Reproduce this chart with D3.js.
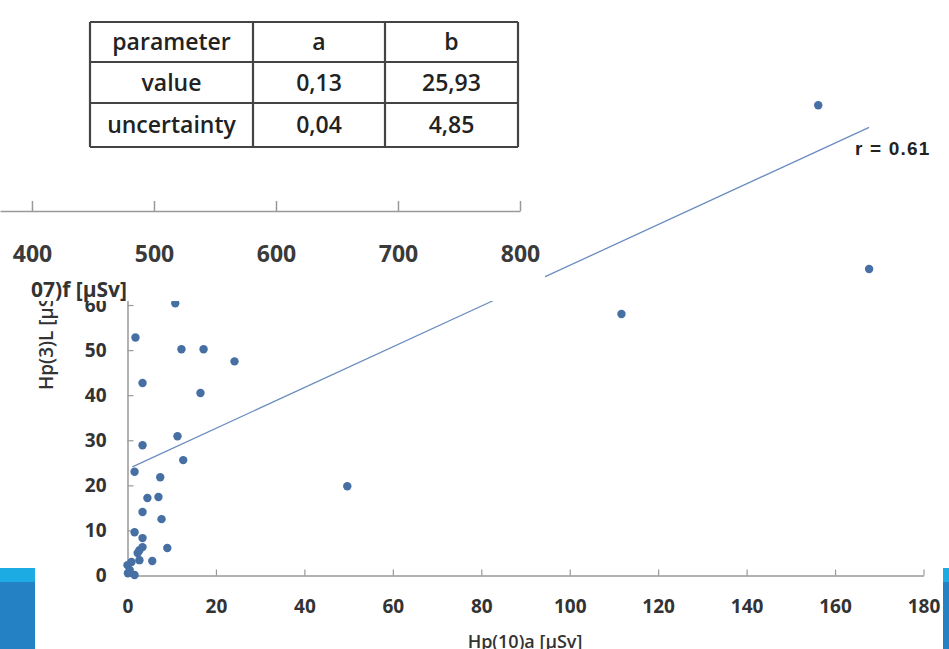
<!DOCTYPE html>
<html>
<head>
<meta charset="utf-8">
<script src="https://cdn.jsdelivr.net/npm/d3@7"></script>
<style>
  html, body { margin: 0; padding: 0; background: #fff; }
  svg { display: block; }
  text { font-family: "Open Sans", Lato, sans-serif; }
</style>
</head>
<body>
<svg id="graphic" width="949" height="649"></svg>
<script>
// main scatter: Hp(10)a vs Hp(3)L
const hp10 = [10.8, 1.8, 12.2, 17.2, 24.2, 3.4, 16.5, 11.3, 3.4, 12.6, 1.6, 7.4, 4.5, 7.0,
  3.4, 7.7, 1.6, 3.4, 3.4, 2.7, 2.3, 9.0, 2.7, 5.6, 0.9, 0.0, 0.5, 1.6, 0.1,
  49.7, 111.7, 156.2, 167.7];
const hp3 = [60.4, 52.8, 50.2, 50.2, 47.5, 42.7, 40.5, 30.9, 28.9, 25.6, 23.0, 21.8, 17.2, 17.4,
  14.1, 12.5, 9.6, 8.3, 6.3, 5.6, 5.0, 6.1, 3.4, 3.2, 3.0, 2.3, 1.2, 0.1, 0.5,
  19.8, 58.0, 104.3, 68.0];
const fitX = [1.1, 167.7];
const fitY = [24.1, 99.4];
const rLabel = "r = 0.61";

const xTicks = [0, 20, 40, 60, 80, 100, 120, 140, 160, 180];
const yTicks = [0, 10, 20, 30, 40, 50, 60, 70, 80, 90, 100, 110, 120];

// the chart behind it
const bgTicks = [400, 500, 600, 700, 800];
const bgTitle = "07)f [µSv]";

// parameter table
const tableHead = ["parameter", "a", "b"];
const tableValue = ["value", "0,13", "25,93"];
const tableUnc = ["uncertainty", "0,04", "4,85"];

let svg = d3.select('#graphic');

let xScale = d3.scaleLinear().domain([0, 180]).range([127.5, 923.5]);
let yScale = d3.scaleLinear().domain([0, 120]).range([575.5, 575.5 - 120 * 4.508]);

let xAxis = d3.axisBottom(xScale)
    .tickValues(xTicks)
    .tickSizeInner(-6)
    .tickSizeOuter(0)
    .tickPadding(24);

let yAxis = d3.axisLeft(yScale)
    .tickValues(yTicks)
    .tickSizeInner(-6)
    .tickSizeOuter(0)
    .tickPadding(21);

let main = svg.append('g');

let gx = main.append('g')
    .attr('transform', 'translate(0,575.5)')
    .call(xAxis);

let gy = main.append('g')
    .attr('transform', 'translate(127.5,0)')
    .call(yAxis);

[gx, gy].forEach(g => {
    g.select('.domain').attr('stroke', '#999').attr('stroke-width', 1.5);
    g.selectAll('.tick line').attr('stroke', '#999').attr('stroke-width', 1.2);
    g.selectAll('.tick text')
        .attr('fill', '#333')
        .style('font-size', '19px')
        .style('font-weight', 700);
});

main.append('path')
    .datum(fitX.map((x, i) => [x, fitY[i]]))
    .attr('fill', 'none')
    .attr('stroke', '#6a8cbf')
    .attr('stroke-width', 1.3)
    .attr('d', d3.line().x(d => xScale(d[0])).y(d => yScale(d[1])));

main.selectAll('.data_point')
    .data(hp10.map((x, i) => ({x: x, y: hp3[i]})))
    .enter()
    .append('circle')
    .classed('data_point', true)
    .attr('cx', d => xScale(d.x))
    .attr('cy', d => yScale(d.y))
    .attr('r', 4.2)
    .attr('fill', '#4670a4');

main.append('text')
    .attr('x', 855)
    .attr('y', 155)
    .attr('fill', '#222')
    .style('font-family', '"Liberation Sans", Arial, sans-serif')
    .style('font-size', '19px')
    .style('font-weight', 700)
    .style('letter-spacing', '1.2px')
    .text(rLabel);

main.append('text')
    .attr('transform', 'translate(53,390) rotate(-90)')
    .attr('fill', '#333')
    .style('font-size', '19px')
    .style('font-weight', 600)
    .text('Hp(3)L [µSv]');

main.append('text')
    .attr('x', 525)
    .attr('y', 648)
    .attr('text-anchor', 'middle')
    .attr('fill', '#333')
    .style('font-size', '18px')
    .style('font-weight', 600)
    .text('Hp(10)a [µSv]');

// white cut-out holding the other chart and the table
svg.append('rect')
    .attr('x', 0).attr('y', 0)
    .attr('width', 545).attr('height', 301)
    .attr('fill', '#fff');

let bgScale = d3.scaleLinear().domain([373.8, 800]).range([0, 520]);

let gbg = svg.append('g')
    .attr('transform', 'translate(0,211)')
    .call(d3.axisBottom(bgScale)
        .tickValues(bgTicks)
        .tickSizeInner(-10)
        .tickSizeOuter(0)
        .tickPadding(35));

gbg.select('.domain').attr('stroke', '#999').attr('stroke-width', 1.5);
gbg.selectAll('.tick line').attr('stroke', '#999').attr('stroke-width', 1.5);
gbg.selectAll('.tick text')
    .attr('fill', '#3a3a3a')
    .style('font-size', '23px')
    .style('font-weight', 700);

svg.append('text')
    .attr('x', 127)
    .attr('y', 297)
    .attr('text-anchor', 'end')
    .attr('fill', '#333')
    .style('font-size', '21px')
    .style('font-weight', 700)
    .text(bgTitle);

// table
let colEdges = [90, 253, 385, 518];
let rowEdges = [22, 62, 103, 147];
let rows = [tableHead, tableValue, tableUnc];

let tbl = svg.append('g');

rows.forEach((row, r) => {
    row.forEach((cell, c) => {
        tbl.append('text')
            .attr('x', (colEdges[c] + colEdges[c + 1]) / 2)
            .attr('y', (rowEdges[r] + rowEdges[r + 1]) / 2 + 8)
            .attr('text-anchor', 'middle')
            .attr('fill', '#222')
            .style('font-size', '23px')
            .style('font-weight', 600)
            .text(cell);
    });
});

tbl.selectAll('.hline')
    .data(rowEdges)
    .enter()
    .append('line')
    .attr('x1', colEdges[0]).attr('x2', colEdges[3])
    .attr('y1', d => d).attr('y2', d => d)
    .attr('stroke', '#444')
    .attr('stroke-width', 2.2);

tbl.selectAll('.vline')
    .data(colEdges)
    .enter()
    .append('line')
    .attr('x1', d => d).attr('x2', d => d)
    .attr('y1', rowEdges[0]).attr('y2', rowEdges[3])
    .attr('stroke', '#444')
    .attr('stroke-width', 2.2);

// blue slide bars at the bottom corners
[[0, 35], [943, 6]].forEach(b => {
    svg.append('rect')
        .attr('x', b[0]).attr('y', 568)
        .attr('width', b[1]).attr('height', 81)
        .attr('fill', '#2481c4');
    svg.append('rect')
        .attr('x', b[0]).attr('y', 568)
        .attr('width', b[1]).attr('height', 14)
        .attr('fill', '#1cabe2');
});
</script>
</body>
</html>
